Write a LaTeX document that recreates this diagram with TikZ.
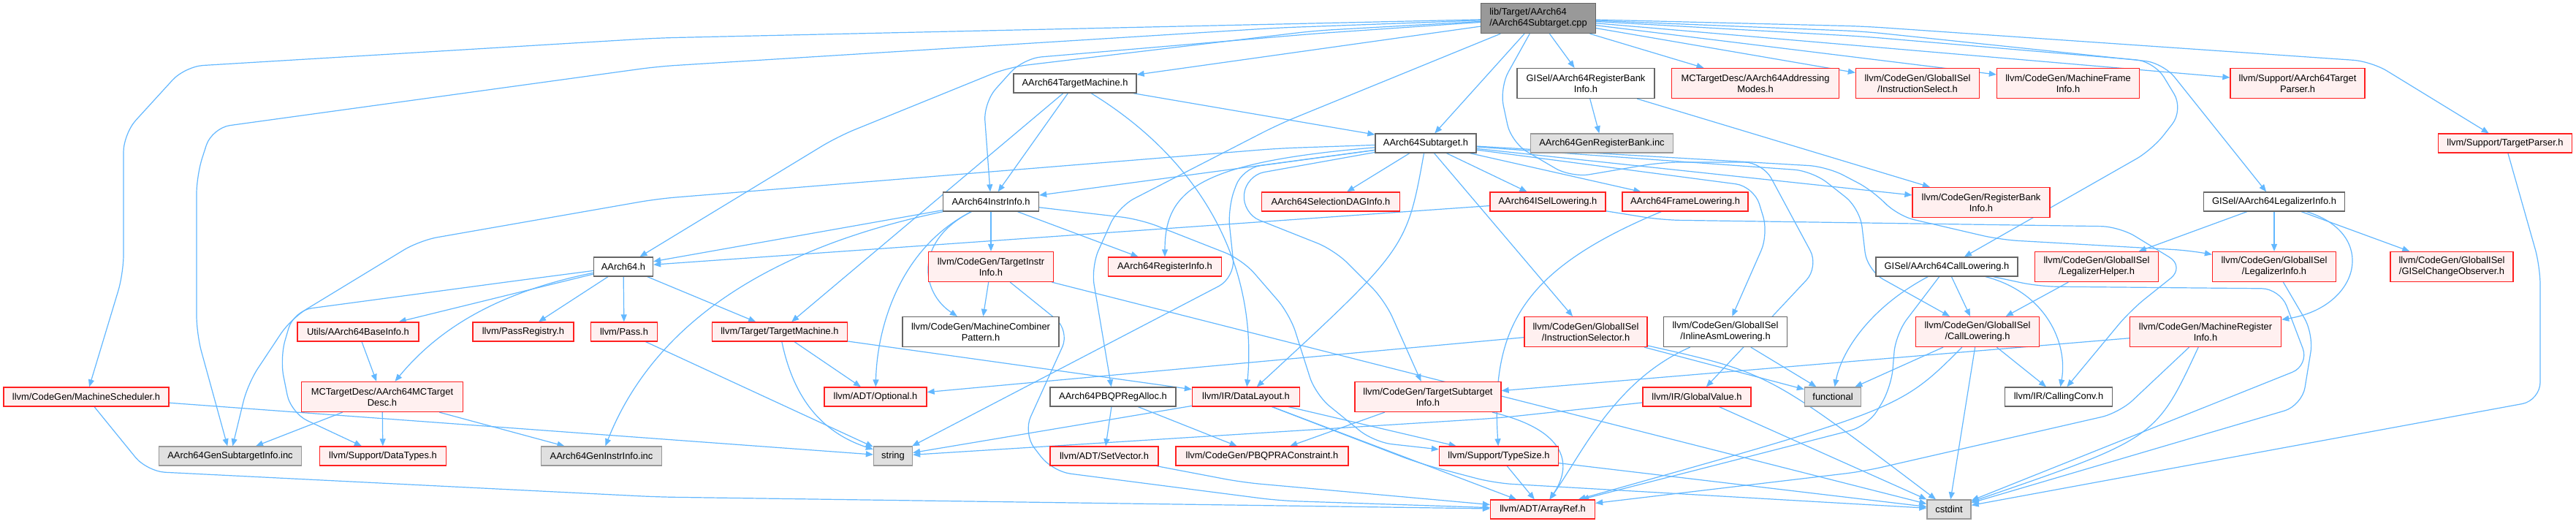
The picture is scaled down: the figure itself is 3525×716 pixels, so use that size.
\documentclass[tikz,border=0pt]{standalone}
\usepackage{fontspec}
\newfontfamily\nf{Liberation Sans}
\usetikzlibrary{arrows.meta}
\definecolor{ecol}{HTML}{63B8FF}
\definecolor{redb}{HTML}{FF2020}
\definecolor{redf}{HTML}{FFF0F0}
\definecolor{gryf}{HTML}{E0E0E0}
\definecolor{gryb}{HTML}{999999}
\definecolor{topf}{HTML}{999999}
\definecolor{topb}{HTML}{666666}
\definecolor{whtb}{HTML}{666666}
\pgfdeclarelayer{back}
\pgfdeclarelayer{bg}
\pgfsetlayers{back,bg,main}
\begin{document}
\begin{tikzpicture}[x=1pt,y=-1pt,
  nd/.style={draw, line width=1.3pt, inner sep=1pt, minimum height=26pt, align=center, font=\nf\fontsize{12.9pt}{15pt}\selectfont},
  redn/.style={nd, draw=redb, fill=redf},
  whtn/.style={nd, draw=whtb, fill=white},
  gryn/.style={nd, draw=gryb, fill=gryf},
  topn/.style={nd, draw=topb, fill=topf},
  two/.style={minimum height=41pt},
  wd/.style={minimum width=#1pt},
  edg/.style={draw=ecol, line width=1.2pt, -{Triangle[length=10pt,width=8pt]}},
  rcn/.style={rounded corners=25pt}]
\begin{pgfonlayer}{back}
\fill[white] (0,0) rectangle (3525,716);
\end{pgfonlayer}
\useasboundingbox (0,0) rectangle (3525,716);
% row 0
\node[topn,two,wd=157,align=left] (main) at (2105,25) {lib/Target/AArch64\\/AArch64Subtarget.cpp};
% row 1
\node[whtn,wd=168] (tm) at (1471,114) {AArch64TargetMachine.h};
\node[whtn,two,wd=188] (rbg) at (2170,114) {GISel/AArch64RegisterBank\\Info.h};
\node[redn,two,wd=229] (addr) at (2402,114) {MCTargetDesc/AArch64Addressing\\Modes.h};
\node[redn,two,wd=169] (isel) at (2624,114) {llvm/CodeGen/GlobalISel\\/InstructionSelect.h};
\node[redn,two,wd=195] (mfi) at (2830,114) {llvm/CodeGen/MachineFrame\\Info.h};
\node[redn,two,wd=184] (a64tp) at (3144,114) {llvm/Support/AArch64Target\\Parser.h};
% row 2
\node[whtn,wd=138] (sub) at (1951,196) {AArch64Subtarget.h};
\node[gryn,wd=195] (genrb) at (2192,196) {AArch64GenRegisterBank.inc};
\node[redn,wd=183] (tp) at (3428,196) {llvm/Support/TargetParser.h};
% row 3
\node[whtn,wd=131] (ii) at (1356,276) {AArch64InstrInfo.h};
\node[redn,wd=189] (sdag) at (1821,276) {AArch64SelectionDAGInfo.h};
\node[redn,wd=158] (isl) at (2118,276) {AArch64ISelLowering.h};
\node[redn,wd=172] (fl) at (2306,276) {AArch64FrameLowering.h};
\node[redn,two,wd=188] (rbi) at (2711,277) {llvm/CodeGen/RegisterBank\\Info.h};
\node[whtn,wd=193] (gli) at (3112,276) {GISel/AArch64LegalizerInfo.h};
% row 4
\node[whtn,wd=81] (a64) at (853,365) {AArch64.h};
\node[redn,two,wd=171] (tii) at (1356,365) {llvm/CodeGen/TargetInstr\\Info.h};
\node[redn,wd=155] (ri) at (1594,365) {AArch64RegisterInfo.h};
\node[whtn,wd=194] (gcl) at (2664,365) {GISel/AArch64CallLowering.h};
\node[redn,two,wd=169] (lh) at (2869,365) {llvm/CodeGen/GlobalISel\\/LegalizerHelper.h};
\node[redn,two,wd=169] (li) at (3112,365) {llvm/CodeGen/GlobalISel\\/LegalizerInfo.h};
\node[redn,two,wd=168] (obs) at (3355,365) {llvm/CodeGen/GlobalISel\\/GISelChangeObserver.h};
% row 5
\node[redn,wd=166] (bi) at (490,454) {Utils/AArch64BaseInfo.h};
\node[redn,wd=138] (preg) at (716,454) {llvm/PassRegistry.h};
\node[redn,wd=91] (pass) at (854,454) {llvm/Pass.h};
\node[redn,wd=185] (ttm) at (1067,454) {llvm/Target/TargetMachine.h};
\node[whtn,two,wd=214] (mcp) at (1342,454) {llvm/CodeGen/MachineCombiner\\Pattern.h};
\node[redn,two,wd=168] (isr) at (2170,454) {llvm/CodeGen/GlobalISel\\/InstructionSelector.h};
\node[whtn,two,wd=169] (ial) at (2361,454) {llvm/CodeGen/GlobalISel\\/InlineAsmLowering.h};
\node[redn,two,wd=169] (cl) at (2706,454) {llvm/CodeGen/GlobalISel\\/CallLowering.h};
\node[redn,two,wd=207] (mri) at (3018,454) {llvm/CodeGen/MachineRegister\\Info.h};
% row 6
\node[redn,wd=226] (ms) at (118,543) {llvm/CodeGen/MachineScheduler.h};
\node[redn,two,wd=221] (mctd) at (523,543) {MCTargetDesc/AArch64MCTarget\\Desc.h};
\node[redn,wd=140] (opt) at (1198,543) {llvm/ADT/Optional.h};
\node[whtn,wd=172] (pbqp) at (1523,543) {AArch64PBQPRegAlloc.h};
\node[redn,wd=147] (dl) at (1705,543) {llvm/IR/DataLayout.h};
\node[redn,two,wd=200] (tsi) at (1954,543) {llvm/CodeGen/TargetSubtarget\\Info.h};
\node[redn,wd=148] (gv) at (2322,543) {llvm/IR/GlobalValue.h};
\node[gryn,wd=77] (fn) at (2508,543) {functional};
\node[whtn,wd=147] (cc) at (2817,543) {llvm/IR/CallingConv.h};
% row 7
\node[gryn,wd=195] (gsi) at (315,624) {AArch64GenSubtargetInfo.inc};
\node[redn,wd=173] (dt) at (524,624) {llvm/Support/DataTypes.h};
\node[gryn,wd=165] (gii) at (823,624) {AArch64GenInstrInfo.inc};
\node[gryn,wd=53] (str) at (1222,624) {string};
\node[redn,wd=148] (sv) at (1511,624) {llvm/ADT/SetVector.h};
\node[redn,wd=236] (pc) at (1727,624) {llvm/CodeGen/PBQPRAConstraint.h};
\node[redn,wd=163] (ts) at (2051,624) {llvm/Support/TypeSize.h};
% row 8
\node[redn,wd=143] (ar) at (2111,697) {llvm/ADT/ArrayRef.h};
\node[gryn,wd=60] (ci) at (2667,697) {cstdint};

\begin{pgfonlayer}{bg}
% from main
\draw[edg,rcn] (main) -- (1750,33) -- (900,52) -- (253,91) -- (169,183) -- (169,374) -- (ms);
\draw[edg,rcn] (main) -- (1750,38) -- (900,91) -- (290,175) -- (269,240) -- (269,457) -- (gsi);
\draw[edg,rcn] (main) -- (1800,42) -- (1380,92) -- (1146,187) -- (a64);
\draw[edg,rcn] (main) -- (1800,46) -- (1400,80) -- (1346,140) -- (ii);
\draw[edg] (main) -- (tm);
\draw[edg] (main) -- (sub);
\draw[edg] (main) -- (rbg);
\draw[edg] (main) -- (addr);
\draw[edg] (main) -- (isel);
\draw[edg] (main) -- (mfi);
\draw[edg] (main) -- (a64tp);
\draw[edg,rcn] (main) -- (2550,36) -- (3245,84) -- (tp);
\draw[edg,rcn] (main) -- (2550,43) -- (2960,86) -- (gli);
\draw[edg,rcn] (main) -- (2550,50) -- (2948,84) -- (2988,150) -- (2945,205) -- (gcl);
\draw[edg,rcn] (main) -- (1750,170) -- (1530,283) -- (1493,365) -- (pbqp);
\draw[edg,rcn] (main) -- (2052,120) -- (2068,195) -- (2150,243) -- (2274,222) -- (2412,222) -- (2489,365) -- (gv);
% from AArch64TargetMachine.h
\draw[edg] (tm) -- (ii);
\draw[edg] (tm) -- (sub);
\draw[edg] (tm) -- (ttm);
\draw[edg] (tm) .. controls (1660,230) and (1720,380) .. (dl);
% from AArch64Subtarget.h
\draw[edg] (sub) -- (ii);
\draw[edg] (sub) .. controls (1640,222) and (1594,260) .. (ri);
\draw[edg] (sub) -- (sdag);
\draw[edg] (sub) -- (isl);
\draw[edg] (sub) -- (fl);
\draw[edg] (sub) -- (isr);
\draw[edg,rcn] (sub) -- (2400,255) -- (2420,320) -- (ial);
\draw[edg] (sub) .. controls (1925,340) .. (dl);
\draw[edg,rcn] (sub) -- (1705,240) -- (1700,292) -- (1826,342) -- (1895,411) -- (tsi);
\draw[edg] (sub) -- (rbi);
\draw[edg,rcn] (sub) -- (2500,228) -- (2565,262) -- (2595,295) -- (2737,328) -- (3000,343) -- (li);
\draw[edg,rcn] (sub) -- (2480,234) -- (2545,285) -- (2555,370) -- (cl);
\draw[edg,rcn] (sub) -- (1700,230) -- (1680,285) -- (1690,380) -- (str);
\draw[edg,rcn] (sub) -- (1750,203) -- (900,272) -- (574,329) -- (398,436) -- (339,525) -- (gsi);
% from AArch64InstrInfo.h
\draw[edg] (ii) -- (a64);
\draw[edg] (ii) -- (ri);
\draw[edg] (ii) .. controls (1230,340) and (1200,450) .. (opt);
\draw[edg] (ii) .. controls (1250,330) and (1260,400) .. (mcp);
\draw[edg] (ii) -- (tii);
\draw[edg,rcn] (ii) -- (1560,300) -- (1700,355) -- (1765,430) -- (1800,540) -- (1880,605) -- (ts);
\draw[edg] (ii) .. controls (1000,350) and (880,480) .. (gii);
% from AArch64.h
\draw[edg] (a64) -- (bi);
\draw[edg] (a64) .. controls (680,400) and (600,450) .. (mctd);
\draw[edg] (a64) -- (preg);
\draw[edg] (a64) -- (pass);
\draw[edg] (a64) -- (ttm);
\draw[edg,rcn] (a64) -- (700,385) -- (402,425) -- (383,490) -- (398,565) -- (dt);
% row 3 sources
\draw[edg] (isl) -- (a64);
\draw[edg,rcn] (isl) -- (2274,301) -- (2900,310) -- (2990,365) -- (2915,425) -- (cc);
\draw[edg] (fl) .. controls (2080,370) and (2040,450) .. (ts);
\draw[edg] (rbg) -- (genrb);
\draw[edg] (rbg) -- (rbi);
\draw[edg] (gli) -- (lh);
\draw[edg] (gli) -- (li);
\draw[edg] (gli) -- (obs);
\draw[edg] (gli) .. controls (3255,320) and (3230,420) .. (mri);
\draw[edg,rcn] (tp) -- (3476,365) -- (3476,548) -- (ci);
% row 4 sources
\draw[edg] (tii) -- (mcp);
\draw[edg,rcn] (tii) -- (1464,452) -- (1400,593) -- (1440,645) -- (1750,685) -- (ar);
\draw[edg] (tii) -- (ci);
\draw[edg] (gcl) -- (cl);
\draw[edg] (gcl) .. controls (2800,400) and (2830,470) .. (cc);
\draw[edg] (gcl) .. controls (2560,420) and (2520,480) .. (fn);
\draw[edg,rcn] (gcl) -- (2594,457) -- (2588,530) -- (2556,583) -- (ar);
\draw[edg,rcn] (gcl) -- (2790,392) -- (3120,395) -- (3160,500) -- (ci);
\draw[edg] (lh) -- (cl);
\draw[edg,rcn] (li) -- (3166,457) -- (3150,555) -- (ci);
% row 5 sources
\draw[edg] (bi) -- (mctd);
\draw[edg] (pass) -- (str);
\draw[edg] (ttm) -- (opt);
\draw[edg] (ttm) .. controls (1085,540) and (1120,590) .. (str);
\draw[edg] (ttm) -- (dl);
\draw[edg] (isr) -- (opt);
\draw[edg] (isr) -- (fn);
\draw[edg] (isr) .. controls (2420,510) .. (ci);
\draw[edg] (ial) .. controls (2210,520) and (2165,620) .. (ar);
\draw[edg] (ial) -- (fn);
\draw[edg] (cl) -- (cc);
\draw[edg] (cl) -- (fn);
\draw[edg] (cl) .. controls (2600,560) .. (ar);
\draw[edg] (cl) -- (ci);
\draw[edg] (mri) -- (tsi);
\draw[edg,rcn] (mri) -- (2900,565) -- (2550,645) -- (ar);
\draw[edg] (mri) .. controls (2950,600) .. (ci);
% row 6 sources
\draw[edg] (ms) -- (str);
\draw[edg,rcn] (ms) -- (201,645) -- (900,680) -- (ar);
\draw[edg] (mctd) -- (gsi);
\draw[edg] (mctd) -- (dt);
\draw[edg] (mctd) -- (gii);
\draw[edg] (pbqp) -- (sv);
\draw[edg] (pbqp) -- (pc);
\draw[edg] (dl) -- (str);
\draw[edg] (dl) -- (ts);
\draw[edg] (dl) -- (ar);
\draw[edg,rcn] (dl) -- (1942,634) -- (2045,661) -- (ci);
\draw[edg] (tsi) -- (pc);
\draw[edg] (tsi) .. controls (2150,590) and (2150,640) .. (ar);
\draw[edg,rcn] (gv) -- (2050,572) -- (str);
\draw[edg] (gv) -- (ci);
% row 7 sources
\draw[edg,rcn] (sv) -- (1700,660) -- (ar);
\draw[edg] (ts) -- (ar);
\draw[edg] (ts) -- (ci);
\end{pgfonlayer}
\end{tikzpicture}
\end{document}
